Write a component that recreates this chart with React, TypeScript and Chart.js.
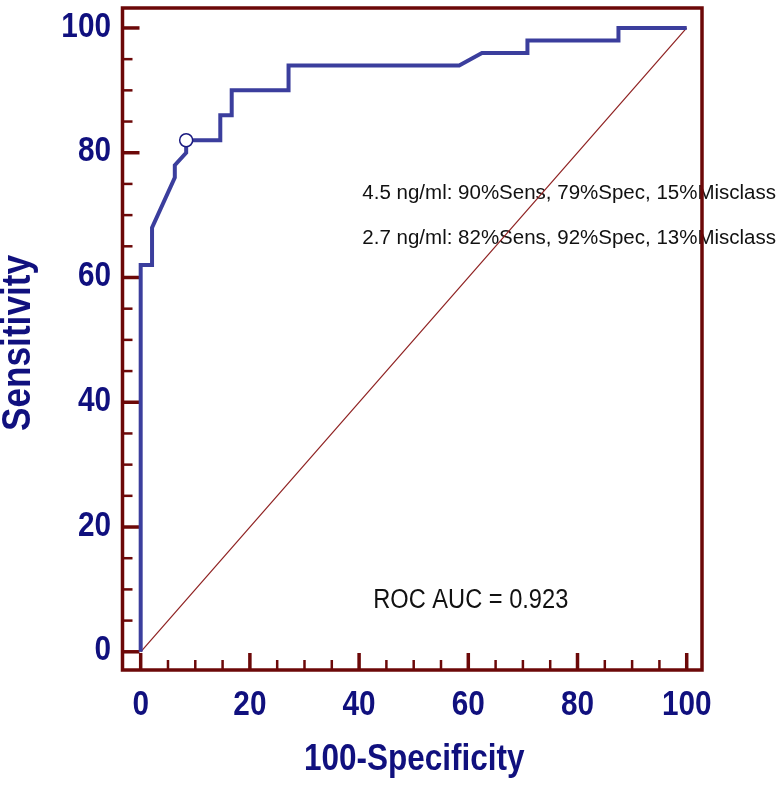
import React, { useEffect, useRef } from "react";
import { Chart, registerables } from "chart.js";

Chart.register(...registerables);

// ROC curve vertices (100-Specificity, Sensitivity)
const rocX = [0, 0, 2.08, 2.08, 6.25, 6.25, 8.33, 8.33, 14.58, 14.58, 16.67, 16.67, 27.08, 27.08, 58.33, 62.5, 70.83, 70.83, 87.5, 87.5, 100];
const rocY = [0, 62, 62, 68, 76, 78, 80, 82, 82, 86, 86, 90, 90, 94, 94, 96, 96, 98, 98, 100, 100];
// reference (chance) diagonal
const refX = [0, 100];
const refY = [0, 100];
// highlighted cut-off point
const cutX = [8.33];
const cutY = [82];

const tickValues = [0, 20, 40, 60, 80, 100];
const tickLabels = ["0", "20", "40", "60", "80", "100"];
const minorStep = 5;

const annotationTexts = [
  "4.5 ng/ml: 90%Sens, 79%Spec, 15%Misclass",
  "2.7 ng/ml: 82%Sens, 92%Spec, 13%Misclass",
  "ROC AUC = 0.923",
];
const annotationX = [40.6, 40.6, 42.6];
const annotationY = [72.6, 65.3, 7.07];

const xTitle = "100-Specificity";
const yTitle = "Sensitivity";

const NAVY = "#10107e";
const CURVE = "#3b3e9d";
const FRAME = "#6c0808";
const DIAG = "#8e2020";
const SANS = '"Liberation Sans", Arial, sans-serif';

function narrowText(
  ctx: CanvasRenderingContext2D,
  text: string,
  cx: number,
  cy: number,
  size: number,
  sx: number,
  align: CanvasTextAlign,
  weight: string,
  color: string,
  baseline: CanvasTextBaseline = "middle",
  rot = 0
) {
  ctx.save();
  ctx.translate(cx, cy);
  if (rot) ctx.rotate(rot);
  ctx.scale(sx, 1);
  ctx.font = `${weight} ${size}px ${SANS}`;
  ctx.fillStyle = color;
  ctx.textAlign = align;
  ctx.textBaseline = baseline;
  ctx.fillText(text, 0, 0);
  ctx.restore();
}

const framePlugin = {
  id: "rocFrame",
  beforeDatasetsDraw(chart: any) {
    const { ctx, chartArea: a, scales } = chart;
    const x = scales.x;
    const y = scales.y;
    ctx.save();
    // annotation texts
    annotationTexts.forEach((t, i) => {
      const px = x.getPixelForValue(annotationX[i]);
      const py = y.getPixelForValue(annotationY[i]);
      if (i === 2) narrowText(ctx, t, px, py, 27, 0.875, "left", "normal", "#111111", "alphabetic");
      else narrowText(ctx, t, px, py, 20.5, 1, "left", "normal", "#111111", "alphabetic");
    });
    // inward tick marks
    ctx.strokeStyle = FRAME;
    ctx.lineCap = "butt";
    for (let v = 0; v <= 100; v += minorStep) {
      const major = tickValues.includes(v);
      ctx.lineWidth = major ? 3.5 : 2.5;
      const len = major ? 17 : 10;
      const px = x.getPixelForValue(v);
      ctx.beginPath();
      ctx.moveTo(px, a.bottom);
      ctx.lineTo(px, a.bottom - len);
      ctx.stroke();
      const py = y.getPixelForValue(v);
      ctx.beginPath();
      ctx.moveTo(a.left, py);
      ctx.lineTo(a.left + len, py);
      ctx.stroke();
    }
    // frame
    ctx.lineWidth = 3.5;
    ctx.strokeRect(a.left, a.top, a.right - a.left, a.bottom - a.top);

    // tick labels (condensed bold)
    tickValues.forEach((v, i) => {
      narrowText(ctx, tickLabels[i], x.getPixelForValue(v), a.bottom + 35.5, 35, 0.85, "center", "bold", NAVY);
      narrowText(ctx, tickLabels[i], a.left - 11.5, y.getPixelForValue(v) - 1, 35, 0.85, "right", "bold", NAVY);
    });
    // axis titles
    narrowText(ctx, xTitle, (a.left + a.right) / 2 + 2, 760, 37.5, 0.84, "center", "bold", NAVY);
    narrowText(ctx, yTitle, 19, (a.top + a.bottom) / 2 + 4, 40, 0.88, "center", "bold", NAVY, "middle", -Math.PI / 2);
    ctx.restore();
  },
};

export default function App() {
  const ref = useRef<HTMLCanvasElement | null>(null);

  useEffect(() => {
    if (!ref.current) return;
    const toPts = (xs: number[], ys: number[]) => xs.map((v, i) => ({ x: v, y: ys[i] }));
    const chart = new Chart(ref.current, {
      type: "line",
      data: {
        datasets: [
          {
            data: toPts(cutX, cutY),
            showLine: false,
            pointRadius: 6.5,
            pointBackgroundColor: "#ffffff",
            pointBorderColor: "#1a1a80",
            pointBorderWidth: 1.5,
          },
          {
            data: toPts(rocX, rocY),
            borderColor: CURVE,
            borderWidth: 4,
            pointRadius: 0,
            tension: 0,
            borderJoinStyle: "miter",
            fill: false,
          },
          {
            data: toPts(refX, refY),
            borderColor: DIAG,
            borderWidth: 1.2,
            pointRadius: 0,
            tension: 0,
            fill: false,
          },
        ],
      },
      options: {
        animation: false,
        responsive: false,
        maintainAspectRatio: false,
        layout: { padding: { top: 4, right: 78, left: 0, bottom: 0 } },
        plugins: { legend: { display: false }, tooltip: { enabled: false } },
        scales: {
          x: {
            type: "linear",
            min: -3.33,
            max: 102.8,
            afterBuildTicks: (s: any) => {
              s.ticks = tickValues.map((v) => ({ value: v }));
            },
            afterFit: (s: any) => {
              s.height = 117;
              s.paddingLeft = 0;
              s.paddingRight = 0;
            },
            grid: { display: false, drawTicks: false },
            border: { display: false },
            ticks: { display: false },
            title: { display: false, text: xTitle },
          },
          y: {
            type: "linear",
            min: -2.92,
            max: 103.2,
            afterBuildTicks: (s: any) => {
              s.ticks = tickValues.map((v) => ({ value: v }));
            },
            afterFit: (s: any) => {
              s.width = 122.5;
              s.paddingTop = 0;
              s.paddingBottom = 0;
            },
            grid: { display: false, drawTicks: false },
            border: { display: false },
            ticks: { display: false },
            title: { display: false, text: yTitle },
          },
        },
      },
      plugins: [framePlugin],
    } as any);
    return () => chart.destroy();
  }, []);

  return (
    <div style={{ position: "fixed", left: 0, top: 0, width: 780, height: 787, background: "#ffffff" }}>
      <canvas ref={ref} width={780} height={787} style={{ display: "block", width: 780, height: 787 }} />
    </div>
  );
}
